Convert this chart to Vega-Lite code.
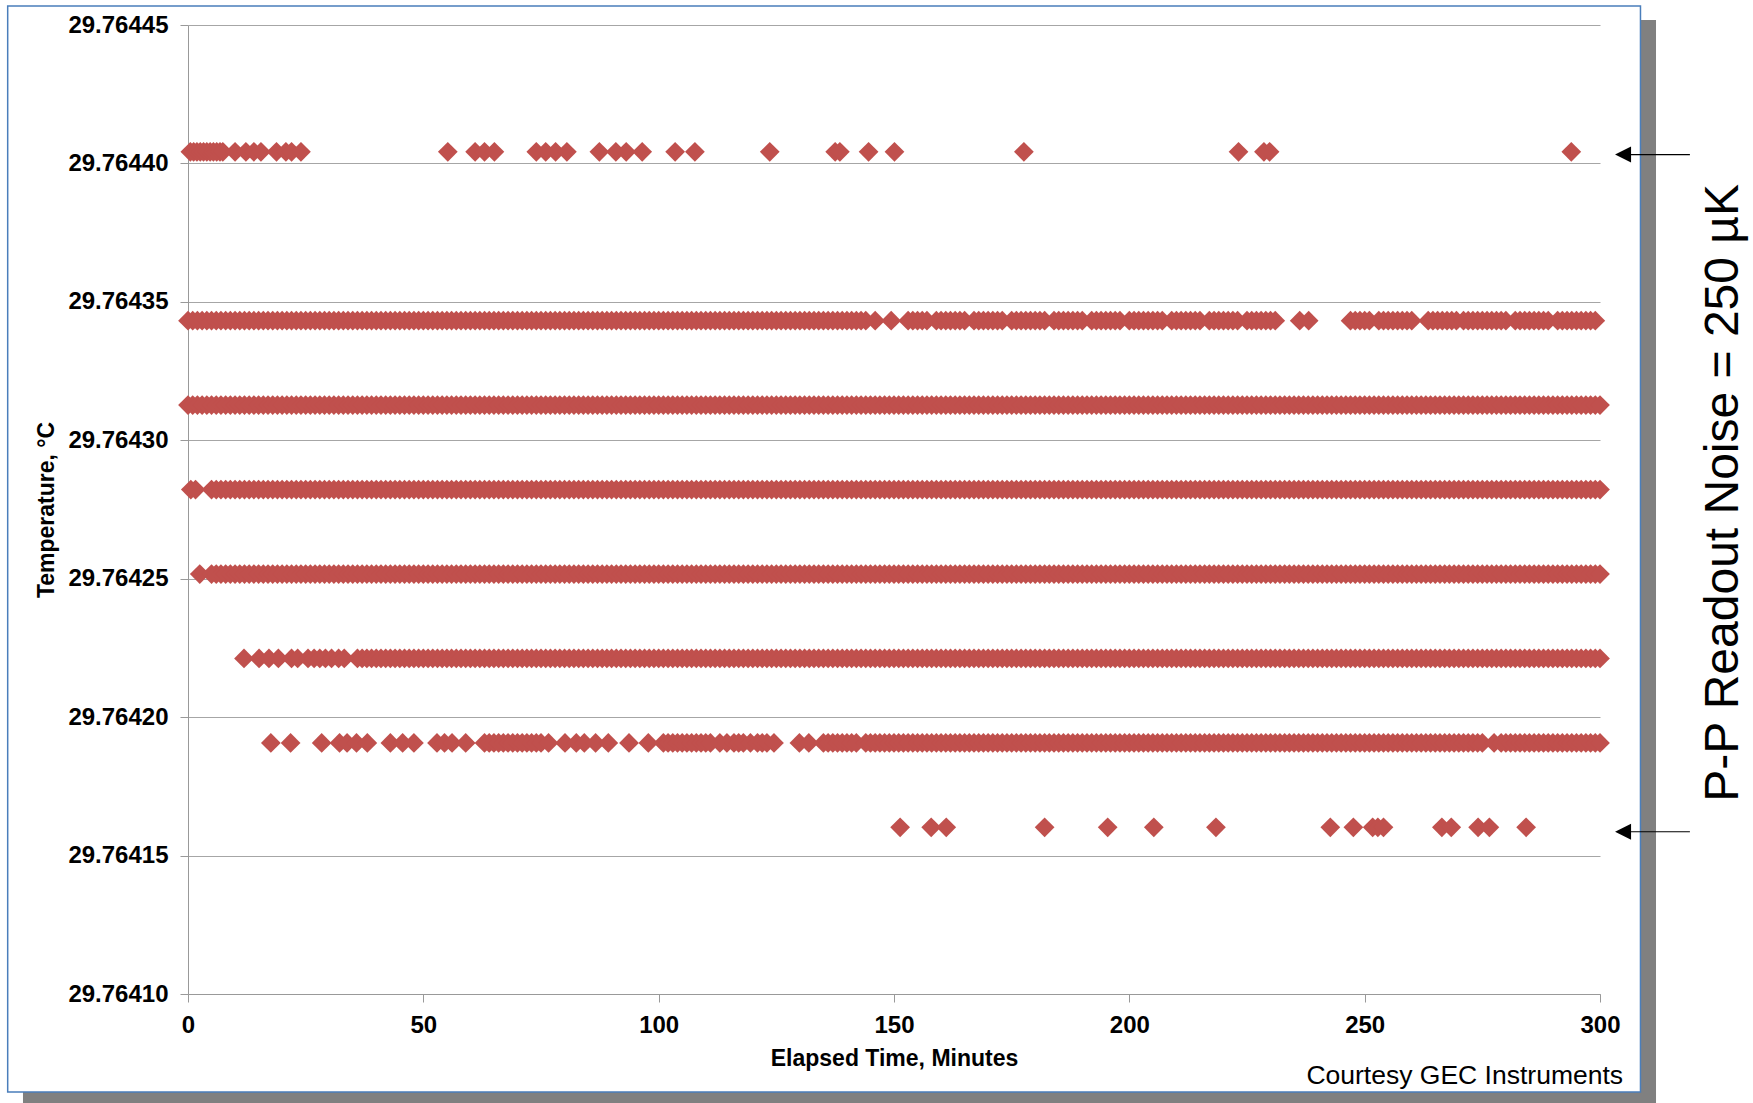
{
"$schema":"https://vega.github.io/schema/vega-lite/v6.json",
"width":1412,"height":969,
"autosize":"none",
"padding":{"left":188,"top":25,"right":153,"bottom":109},
"background":"white",
"config":{"view":{"stroke":null},"font":"Liberation Sans",
"axis":{"labelFont":"Liberation Sans","labelFontWeight":"bold","labelFontSize":24,"labelColor":"black","titleFont":"Liberation Sans","titleFontWeight":"bold","titleFontSize":23,"titleColor":"black","domainColor":"#999999","tickColor":"#999999","gridColor":"#a6a6a6","tickSize":8,"domainWidth":1,"tickWidth":1,"gridWidth":1}},
"datasets":{
"lv":[{"k":0,"v":29.7644042},{"k":1,"v":29.7643432},{"k":2,"v":29.7643127},{"k":3,"v":29.7642822},{"k":4,"v":29.7642517},{"k":5,"v":29.7642212},{"k":6,"v":29.7641907},{"k":7,"v":29.7641602}],
"pts":[
{"t":0.5,"k":0},{"t":1.2,"k":0},{"t":1.9,"k":0},{"t":2.6,"k":0},{"t":3.3,"k":0},{"t":4,"k":0},{"t":4.7,"k":0},{"t":5.4,"k":0},{"t":6.1,"k":0},{"t":6.8,"k":0},{"t":7.4,"k":0},{"t":10,"k":0},{"t":12.3,"k":0},{"t":14,"k":0},{"t":15.5,"k":0},{"t":18.8,"k":0},{"t":20.8,"k":0},{"t":22,"k":0},{"t":24,"k":0},{"t":55.2,"k":0},{"t":61,"k":0},{"t":63,"k":0},{"t":65.1,"k":0},{"t":74,"k":0},{"t":76,"k":0},{"t":78.1,"k":0},{"t":80.5,"k":0},{"t":87.4,"k":0},{"t":90.9,"k":0},{"t":93.1,"k":0},{"t":96.5,"k":0},{"t":103.5,"k":0},{"t":107.7,"k":0},{"t":123.6,"k":0},{"t":137.5,"k":0},{"t":138.5,"k":0},{"t":144.6,"k":0},{"t":150.1,"k":0},{"t":177.6,"k":0},{"t":223.2,"k":0},{"t":228.6,"k":0},{"t":229.8,"k":0},{"t":293.9,"k":0},
{"t":0,"k":1},{"t":1,"k":1},{"t":2,"k":1},{"t":3,"k":1},{"t":4,"k":1},{"t":5,"k":1},{"t":6,"k":1},{"t":7,"k":1},{"t":8,"k":1},{"t":9,"k":1},{"t":10,"k":1},{"t":11,"k":1},{"t":12,"k":1},{"t":13,"k":1},{"t":14,"k":1},{"t":15,"k":1},{"t":16,"k":1},{"t":17,"k":1},{"t":18,"k":1},{"t":19,"k":1},{"t":20,"k":1},{"t":21,"k":1},{"t":22,"k":1},{"t":23,"k":1},{"t":24,"k":1},{"t":25,"k":1},{"t":26,"k":1},{"t":27,"k":1},{"t":28,"k":1},{"t":29,"k":1},{"t":30,"k":1},{"t":31,"k":1},{"t":32,"k":1},{"t":33,"k":1},{"t":34,"k":1},{"t":35,"k":1},{"t":36,"k":1},{"t":37,"k":1},{"t":38,"k":1},{"t":39,"k":1},{"t":40,"k":1},{"t":41,"k":1},{"t":42,"k":1},{"t":43,"k":1},{"t":44,"k":1},{"t":45,"k":1},{"t":46,"k":1},{"t":47,"k":1},{"t":48,"k":1},{"t":49,"k":1},{"t":50,"k":1},{"t":51,"k":1},{"t":52,"k":1},{"t":53,"k":1},{"t":54,"k":1},{"t":55,"k":1},{"t":56,"k":1},{"t":57,"k":1},{"t":58,"k":1},{"t":59,"k":1},{"t":60,"k":1},{"t":61,"k":1},{"t":62,"k":1},{"t":63,"k":1},{"t":64,"k":1},{"t":65,"k":1},{"t":66,"k":1},{"t":67,"k":1},{"t":68,"k":1},{"t":69,"k":1},{"t":70,"k":1},{"t":71,"k":1},{"t":72,"k":1},{"t":73,"k":1},{"t":74,"k":1},{"t":75,"k":1},{"t":76,"k":1},{"t":77,"k":1},{"t":78,"k":1},{"t":79,"k":1},{"t":80,"k":1},{"t":81,"k":1},{"t":82,"k":1},{"t":83,"k":1},{"t":84,"k":1},{"t":85,"k":1},{"t":86,"k":1},{"t":87,"k":1},{"t":88,"k":1},{"t":89,"k":1},{"t":90,"k":1},{"t":91,"k":1},{"t":92,"k":1},{"t":93,"k":1},{"t":94,"k":1},{"t":95,"k":1},{"t":96,"k":1},{"t":97,"k":1},{"t":98,"k":1},{"t":99,"k":1},{"t":100,"k":1},{"t":101,"k":1},{"t":102,"k":1},{"t":103,"k":1},{"t":104,"k":1},{"t":105,"k":1},{"t":106,"k":1},{"t":107,"k":1},{"t":108,"k":1},{"t":109,"k":1},{"t":110,"k":1},{"t":111,"k":1},{"t":112,"k":1},{"t":113,"k":1},{"t":114,"k":1},{"t":115,"k":1},{"t":116,"k":1},{"t":117,"k":1},{"t":118,"k":1},{"t":119,"k":1},{"t":120,"k":1},{"t":121,"k":1},{"t":122,"k":1},{"t":123,"k":1},{"t":124,"k":1},{"t":125,"k":1},{"t":126,"k":1},{"t":127,"k":1},{"t":128,"k":1},{"t":129,"k":1},{"t":130,"k":1},{"t":131,"k":1},{"t":132,"k":1},{"t":133,"k":1},{"t":134,"k":1},{"t":135,"k":1},{"t":136,"k":1},{"t":137,"k":1},{"t":138,"k":1},{"t":139,"k":1},{"t":140,"k":1},{"t":141,"k":1},{"t":142,"k":1},{"t":143,"k":1},{"t":144,"k":1},{"t":146,"k":1},{"t":149.4,"k":1},
{"t":153,"k":1},{"t":154,"k":1},{"t":155,"k":1},{"t":156,"k":1},{"t":157,"k":1},{"t":159,"k":1},{"t":160,"k":1},{"t":161,"k":1},{"t":162,"k":1},{"t":163,"k":1},{"t":164,"k":1},{"t":165,"k":1},{"t":167,"k":1},{"t":168,"k":1},{"t":169,"k":1},{"t":170,"k":1},{"t":171,"k":1},{"t":172,"k":1},{"t":173,"k":1},{"t":175,"k":1},{"t":176,"k":1},{"t":177,"k":1},{"t":178,"k":1},{"t":179,"k":1},{"t":180,"k":1},{"t":181,"k":1},{"t":182,"k":1},{"t":184,"k":1},{"t":185,"k":1},{"t":186,"k":1},{"t":187,"k":1},{"t":188,"k":1},{"t":189,"k":1},{"t":190,"k":1},{"t":192,"k":1},{"t":193,"k":1},{"t":194,"k":1},{"t":195,"k":1},{"t":196,"k":1},{"t":197,"k":1},{"t":198,"k":1},{"t":200,"k":1},{"t":201,"k":1},{"t":202,"k":1},{"t":203,"k":1},{"t":204,"k":1},{"t":205,"k":1},{"t":206,"k":1},{"t":207,"k":1},{"t":209,"k":1},{"t":210,"k":1},{"t":211,"k":1},{"t":212,"k":1},{"t":213,"k":1},{"t":214,"k":1},{"t":215,"k":1},{"t":217,"k":1},{"t":218,"k":1},{"t":219,"k":1},{"t":220,"k":1},{"t":221,"k":1},{"t":222,"k":1},{"t":223,"k":1},{"t":225,"k":1},{"t":226,"k":1},{"t":227,"k":1},{"t":228,"k":1},{"t":229,"k":1},{"t":230,"k":1},{"t":231,"k":1},{"t":236.2,"k":1},{"t":238.1,"k":1},
{"t":247,"k":1},{"t":248,"k":1},{"t":249,"k":1},{"t":250,"k":1},{"t":251,"k":1},{"t":253,"k":1},{"t":254,"k":1},{"t":255,"k":1},{"t":256,"k":1},{"t":257,"k":1},{"t":258,"k":1},{"t":259,"k":1},{"t":260,"k":1},{"t":263.5,"k":1},{"t":264.5,"k":1},{"t":265.5,"k":1},{"t":266.5,"k":1},{"t":267.5,"k":1},{"t":268.5,"k":1},{"t":269.5,"k":1},{"t":271,"k":1},{"t":272,"k":1},{"t":273,"k":1},{"t":274,"k":1},{"t":275,"k":1},{"t":276,"k":1},{"t":277,"k":1},{"t":278,"k":1},{"t":279,"k":1},{"t":280,"k":1},{"t":282,"k":1},{"t":283,"k":1},{"t":284,"k":1},{"t":285,"k":1},{"t":286,"k":1},{"t":287,"k":1},{"t":288,"k":1},{"t":289,"k":1},{"t":291,"k":1},{"t":292,"k":1},{"t":293,"k":1},{"t":294,"k":1},{"t":295,"k":1},{"t":296,"k":1},{"t":297,"k":1},{"t":298,"k":1},{"t":299,"k":1},
{"t":0,"k":2},{"t":1,"k":2},{"t":2,"k":2},{"t":3,"k":2},{"t":4,"k":2},{"t":5,"k":2},{"t":6,"k":2},{"t":7,"k":2},{"t":8,"k":2},{"t":9,"k":2},{"t":10,"k":2},{"t":11,"k":2},{"t":12,"k":2},{"t":13,"k":2},{"t":14,"k":2},{"t":15,"k":2},{"t":16,"k":2},{"t":17,"k":2},{"t":18,"k":2},{"t":19,"k":2},{"t":20,"k":2},{"t":21,"k":2},{"t":22,"k":2},{"t":23,"k":2},{"t":24,"k":2},{"t":25,"k":2},{"t":26,"k":2},{"t":27,"k":2},{"t":28,"k":2},{"t":29,"k":2},{"t":30,"k":2},{"t":31,"k":2},{"t":32,"k":2},{"t":33,"k":2},{"t":34,"k":2},{"t":35,"k":2},{"t":36,"k":2},{"t":37,"k":2},{"t":38,"k":2},{"t":39,"k":2},{"t":40,"k":2},{"t":41,"k":2},{"t":42,"k":2},{"t":43,"k":2},{"t":44,"k":2},{"t":45,"k":2},{"t":46,"k":2},{"t":47,"k":2},{"t":48,"k":2},{"t":49,"k":2},{"t":50,"k":2},{"t":51,"k":2},{"t":52,"k":2},{"t":53,"k":2},{"t":54,"k":2},{"t":55,"k":2},{"t":56,"k":2},{"t":57,"k":2},{"t":58,"k":2},{"t":59,"k":2},{"t":60,"k":2},{"t":61,"k":2},{"t":62,"k":2},{"t":63,"k":2},{"t":64,"k":2},{"t":65,"k":2},{"t":66,"k":2},{"t":67,"k":2},{"t":68,"k":2},{"t":69,"k":2},{"t":70,"k":2},{"t":71,"k":2},{"t":72,"k":2},{"t":73,"k":2},{"t":74,"k":2},{"t":75,"k":2},{"t":76,"k":2},{"t":77,"k":2},{"t":78,"k":2},{"t":79,"k":2},{"t":80,"k":2},{"t":81,"k":2},{"t":82,"k":2},{"t":83,"k":2},{"t":84,"k":2},{"t":85,"k":2},{"t":86,"k":2},{"t":87,"k":2},{"t":88,"k":2},{"t":89,"k":2},{"t":90,"k":2},{"t":91,"k":2},{"t":92,"k":2},{"t":93,"k":2},{"t":94,"k":2},{"t":95,"k":2},{"t":96,"k":2},{"t":97,"k":2},{"t":98,"k":2},{"t":99,"k":2},{"t":100,"k":2},{"t":101,"k":2},{"t":102,"k":2},{"t":103,"k":2},{"t":104,"k":2},{"t":105,"k":2},{"t":106,"k":2},{"t":107,"k":2},{"t":108,"k":2},{"t":109,"k":2},{"t":110,"k":2},{"t":111,"k":2},{"t":112,"k":2},{"t":113,"k":2},{"t":114,"k":2},{"t":115,"k":2},{"t":116,"k":2},{"t":117,"k":2},{"t":118,"k":2},{"t":119,"k":2},{"t":120,"k":2},{"t":121,"k":2},{"t":122,"k":2},{"t":123,"k":2},{"t":124,"k":2},{"t":125,"k":2},{"t":126,"k":2},{"t":127,"k":2},{"t":128,"k":2},{"t":129,"k":2},{"t":130,"k":2},{"t":131,"k":2},{"t":132,"k":2},{"t":133,"k":2},{"t":134,"k":2},{"t":135,"k":2},{"t":136,"k":2},{"t":137,"k":2},{"t":138,"k":2},{"t":139,"k":2},{"t":140,"k":2},{"t":141,"k":2},{"t":142,"k":2},{"t":143,"k":2},{"t":144,"k":2},{"t":145,"k":2},{"t":146,"k":2},{"t":147,"k":2},{"t":148,"k":2},{"t":149,"k":2},{"t":150,"k":2},{"t":151,"k":2},{"t":152,"k":2},{"t":153,"k":2},{"t":154,"k":2},{"t":155,"k":2},{"t":156,"k":2},{"t":157,"k":2},{"t":158,"k":2},{"t":159,"k":2},{"t":160,"k":2},{"t":161,"k":2},{"t":162,"k":2},{"t":163,"k":2},{"t":164,"k":2},{"t":165,"k":2},{"t":166,"k":2},{"t":167,"k":2},{"t":168,"k":2},{"t":169,"k":2},{"t":170,"k":2},{"t":171,"k":2},{"t":172,"k":2},{"t":173,"k":2},{"t":174,"k":2},{"t":175,"k":2},{"t":176,"k":2},{"t":177,"k":2},{"t":178,"k":2},{"t":179,"k":2},{"t":180,"k":2},{"t":181,"k":2},{"t":182,"k":2},{"t":183,"k":2},{"t":184,"k":2},{"t":185,"k":2},{"t":186,"k":2},{"t":187,"k":2},{"t":188,"k":2},{"t":189,"k":2},{"t":190,"k":2},{"t":191,"k":2},{"t":192,"k":2},{"t":193,"k":2},{"t":194,"k":2},{"t":195,"k":2},{"t":196,"k":2},{"t":197,"k":2},{"t":198,"k":2},{"t":199,"k":2},{"t":200,"k":2},{"t":201,"k":2},{"t":202,"k":2},{"t":203,"k":2},{"t":204,"k":2},{"t":205,"k":2},{"t":206,"k":2},{"t":207,"k":2},{"t":208,"k":2},{"t":209,"k":2},{"t":210,"k":2},{"t":211,"k":2},{"t":212,"k":2},{"t":213,"k":2},{"t":214,"k":2},{"t":215,"k":2},{"t":216,"k":2},{"t":217,"k":2},{"t":218,"k":2},{"t":219,"k":2},{"t":220,"k":2},{"t":221,"k":2},{"t":222,"k":2},{"t":223,"k":2},{"t":224,"k":2},{"t":225,"k":2},{"t":226,"k":2},{"t":227,"k":2},{"t":228,"k":2},{"t":229,"k":2},{"t":230,"k":2},{"t":231,"k":2},{"t":232,"k":2},{"t":233,"k":2},{"t":234,"k":2},{"t":235,"k":2},{"t":236,"k":2},{"t":237,"k":2},{"t":238,"k":2},{"t":239,"k":2},{"t":240,"k":2},{"t":241,"k":2},{"t":242,"k":2},{"t":243,"k":2},{"t":244,"k":2},{"t":245,"k":2},{"t":246,"k":2},{"t":247,"k":2},{"t":248,"k":2},{"t":249,"k":2},{"t":250,"k":2},{"t":251,"k":2},{"t":252,"k":2},{"t":253,"k":2},{"t":254,"k":2},{"t":255,"k":2},{"t":256,"k":2},{"t":257,"k":2},{"t":258,"k":2},{"t":259,"k":2},{"t":260,"k":2},{"t":261,"k":2},{"t":262,"k":2},{"t":263,"k":2},{"t":264,"k":2},{"t":265,"k":2},{"t":266,"k":2},{"t":267,"k":2},{"t":268,"k":2},{"t":269,"k":2},{"t":270,"k":2},{"t":271,"k":2},{"t":272,"k":2},{"t":273,"k":2},{"t":274,"k":2},{"t":275,"k":2},{"t":276,"k":2},{"t":277,"k":2},{"t":278,"k":2},{"t":279,"k":2},{"t":280,"k":2},{"t":281,"k":2},{"t":282,"k":2},{"t":283,"k":2},{"t":284,"k":2},{"t":285,"k":2},{"t":286,"k":2},{"t":287,"k":2},{"t":288,"k":2},{"t":289,"k":2},{"t":290,"k":2},{"t":291,"k":2},{"t":292,"k":2},{"t":293,"k":2},{"t":294,"k":2},{"t":295,"k":2},{"t":296,"k":2},{"t":297,"k":2},{"t":298,"k":2},{"t":299,"k":2},{"t":300,"k":2},
{"t":0.6,"k":3},{"t":1.6,"k":3},{"t":5,"k":3},{"t":6,"k":3},{"t":7,"k":3},{"t":8,"k":3},{"t":9,"k":3},{"t":10,"k":3},{"t":11,"k":3},{"t":12,"k":3},{"t":13,"k":3},{"t":14,"k":3},{"t":15,"k":3},{"t":16,"k":3},{"t":17,"k":3},{"t":18,"k":3},{"t":19,"k":3},{"t":20,"k":3},{"t":21,"k":3},{"t":22,"k":3},{"t":23,"k":3},{"t":24,"k":3},{"t":25,"k":3},{"t":26,"k":3},{"t":27,"k":3},{"t":28,"k":3},{"t":29,"k":3},{"t":30,"k":3},{"t":31,"k":3},{"t":32,"k":3},{"t":33,"k":3},{"t":34,"k":3},{"t":35,"k":3},{"t":36,"k":3},{"t":37,"k":3},{"t":38,"k":3},{"t":39,"k":3},{"t":40,"k":3},{"t":41,"k":3},{"t":42,"k":3},{"t":43,"k":3},{"t":44,"k":3},{"t":45,"k":3},{"t":46,"k":3},{"t":47,"k":3},{"t":48,"k":3},{"t":49,"k":3},{"t":50,"k":3},{"t":51,"k":3},{"t":52,"k":3},{"t":53,"k":3},{"t":54,"k":3},{"t":55,"k":3},{"t":56,"k":3},{"t":57,"k":3},{"t":58,"k":3},{"t":59,"k":3},{"t":60,"k":3},{"t":61,"k":3},{"t":62,"k":3},{"t":63,"k":3},{"t":64,"k":3},{"t":65,"k":3},{"t":66,"k":3},{"t":67,"k":3},{"t":68,"k":3},{"t":69,"k":3},{"t":70,"k":3},{"t":71,"k":3},{"t":72,"k":3},{"t":73,"k":3},{"t":74,"k":3},{"t":75,"k":3},{"t":76,"k":3},{"t":77,"k":3},{"t":78,"k":3},{"t":79,"k":3},{"t":80,"k":3},{"t":81,"k":3},{"t":82,"k":3},{"t":83,"k":3},{"t":84,"k":3},{"t":85,"k":3},{"t":86,"k":3},{"t":87,"k":3},{"t":88,"k":3},{"t":89,"k":3},{"t":90,"k":3},{"t":91,"k":3},{"t":92,"k":3},{"t":93,"k":3},{"t":94,"k":3},{"t":95,"k":3},{"t":96,"k":3},{"t":97,"k":3},{"t":98,"k":3},{"t":99,"k":3},{"t":100,"k":3},{"t":101,"k":3},{"t":102,"k":3},{"t":103,"k":3},{"t":104,"k":3},{"t":105,"k":3},{"t":106,"k":3},{"t":107,"k":3},{"t":108,"k":3},{"t":109,"k":3},{"t":110,"k":3},{"t":111,"k":3},{"t":112,"k":3},{"t":113,"k":3},{"t":114,"k":3},{"t":115,"k":3},{"t":116,"k":3},{"t":117,"k":3},{"t":118,"k":3},{"t":119,"k":3},{"t":120,"k":3},{"t":121,"k":3},{"t":122,"k":3},{"t":123,"k":3},{"t":124,"k":3},{"t":125,"k":3},{"t":126,"k":3},{"t":127,"k":3},{"t":128,"k":3},{"t":129,"k":3},{"t":130,"k":3},{"t":131,"k":3},{"t":132,"k":3},{"t":133,"k":3},{"t":134,"k":3},{"t":135,"k":3},{"t":136,"k":3},{"t":137,"k":3},{"t":138,"k":3},{"t":139,"k":3},{"t":140,"k":3},{"t":141,"k":3},{"t":142,"k":3},{"t":143,"k":3},{"t":144,"k":3},{"t":145,"k":3},{"t":146,"k":3},{"t":147,"k":3},{"t":148,"k":3},{"t":149,"k":3},{"t":150,"k":3},{"t":151,"k":3},{"t":152,"k":3},{"t":153,"k":3},{"t":154,"k":3},{"t":155,"k":3},{"t":156,"k":3},{"t":157,"k":3},{"t":158,"k":3},{"t":159,"k":3},{"t":160,"k":3},{"t":161,"k":3},{"t":162,"k":3},{"t":163,"k":3},{"t":164,"k":3},{"t":165,"k":3},{"t":166,"k":3},{"t":167,"k":3},{"t":168,"k":3},{"t":169,"k":3},{"t":170,"k":3},{"t":171,"k":3},{"t":172,"k":3},{"t":173,"k":3},{"t":174,"k":3},{"t":175,"k":3},{"t":176,"k":3},{"t":177,"k":3},{"t":178,"k":3},{"t":179,"k":3},{"t":180,"k":3},{"t":181,"k":3},{"t":182,"k":3},{"t":183,"k":3},{"t":184,"k":3},{"t":185,"k":3},{"t":186,"k":3},{"t":187,"k":3},{"t":188,"k":3},{"t":189,"k":3},{"t":190,"k":3},{"t":191,"k":3},{"t":192,"k":3},{"t":193,"k":3},{"t":194,"k":3},{"t":195,"k":3},{"t":196,"k":3},{"t":197,"k":3},{"t":198,"k":3},{"t":199,"k":3},{"t":200,"k":3},{"t":201,"k":3},{"t":202,"k":3},{"t":203,"k":3},{"t":204,"k":3},{"t":205,"k":3},{"t":206,"k":3},{"t":207,"k":3},{"t":208,"k":3},{"t":209,"k":3},{"t":210,"k":3},{"t":211,"k":3},{"t":212,"k":3},{"t":213,"k":3},{"t":214,"k":3},{"t":215,"k":3},{"t":216,"k":3},{"t":217,"k":3},{"t":218,"k":3},{"t":219,"k":3},{"t":220,"k":3},{"t":221,"k":3},{"t":222,"k":3},{"t":223,"k":3},{"t":224,"k":3},{"t":225,"k":3},{"t":226,"k":3},{"t":227,"k":3},{"t":228,"k":3},{"t":229,"k":3},{"t":230,"k":3},{"t":231,"k":3},{"t":232,"k":3},{"t":233,"k":3},{"t":234,"k":3},{"t":235,"k":3},{"t":236,"k":3},{"t":237,"k":3},{"t":238,"k":3},{"t":239,"k":3},{"t":240,"k":3},{"t":241,"k":3},{"t":242,"k":3},{"t":243,"k":3},{"t":244,"k":3},{"t":245,"k":3},{"t":246,"k":3},{"t":247,"k":3},{"t":248,"k":3},{"t":249,"k":3},{"t":250,"k":3},{"t":251,"k":3},{"t":252,"k":3},{"t":253,"k":3},{"t":254,"k":3},{"t":255,"k":3},{"t":256,"k":3},{"t":257,"k":3},{"t":258,"k":3},{"t":259,"k":3},{"t":260,"k":3},{"t":261,"k":3},{"t":262,"k":3},{"t":263,"k":3},{"t":264,"k":3},{"t":265,"k":3},{"t":266,"k":3},{"t":267,"k":3},{"t":268,"k":3},{"t":269,"k":3},{"t":270,"k":3},{"t":271,"k":3},{"t":272,"k":3},{"t":273,"k":3},{"t":274,"k":3},{"t":275,"k":3},{"t":276,"k":3},{"t":277,"k":3},{"t":278,"k":3},{"t":279,"k":3},{"t":280,"k":3},{"t":281,"k":3},{"t":282,"k":3},{"t":283,"k":3},{"t":284,"k":3},{"t":285,"k":3},{"t":286,"k":3},{"t":287,"k":3},{"t":288,"k":3},{"t":289,"k":3},{"t":290,"k":3},{"t":291,"k":3},{"t":292,"k":3},{"t":293,"k":3},{"t":294,"k":3},{"t":295,"k":3},{"t":296,"k":3},{"t":297,"k":3},{"t":298,"k":3},{"t":299,"k":3},{"t":300,"k":3},
{"t":2.5,"k":4},{"t":5,"k":4},{"t":6,"k":4},{"t":7,"k":4},{"t":8,"k":4},{"t":9,"k":4},{"t":10,"k":4},{"t":11,"k":4},{"t":12,"k":4},{"t":13,"k":4},{"t":14,"k":4},{"t":15,"k":4},{"t":16,"k":4},{"t":17,"k":4},{"t":18,"k":4},{"t":19,"k":4},{"t":20,"k":4},{"t":21,"k":4},{"t":22,"k":4},{"t":23,"k":4},{"t":24,"k":4},{"t":25,"k":4},{"t":26,"k":4},{"t":27,"k":4},{"t":28,"k":4},{"t":29,"k":4},{"t":30,"k":4},{"t":31,"k":4},{"t":32,"k":4},{"t":33,"k":4},{"t":34,"k":4},{"t":35,"k":4},{"t":36,"k":4},{"t":37,"k":4},{"t":38,"k":4},{"t":39,"k":4},{"t":40,"k":4},{"t":41,"k":4},{"t":42,"k":4},{"t":43,"k":4},{"t":44,"k":4},{"t":45,"k":4},{"t":46,"k":4},{"t":47,"k":4},{"t":48,"k":4},{"t":49,"k":4},{"t":50,"k":4},{"t":51,"k":4},{"t":52,"k":4},{"t":53,"k":4},{"t":54,"k":4},{"t":55,"k":4},{"t":56,"k":4},{"t":57,"k":4},{"t":58,"k":4},{"t":59,"k":4},{"t":60,"k":4},{"t":61,"k":4},{"t":62,"k":4},{"t":63,"k":4},{"t":64,"k":4},{"t":65,"k":4},{"t":66,"k":4},{"t":67,"k":4},{"t":68,"k":4},{"t":69,"k":4},{"t":70,"k":4},{"t":71,"k":4},{"t":72,"k":4},{"t":73,"k":4},{"t":74,"k":4},{"t":75,"k":4},{"t":76,"k":4},{"t":77,"k":4},{"t":78,"k":4},{"t":79,"k":4},{"t":80,"k":4},{"t":81,"k":4},{"t":82,"k":4},{"t":83,"k":4},{"t":84,"k":4},{"t":85,"k":4},{"t":86,"k":4},{"t":87,"k":4},{"t":88,"k":4},{"t":89,"k":4},{"t":90,"k":4},{"t":91,"k":4},{"t":92,"k":4},{"t":93,"k":4},{"t":94,"k":4},{"t":95,"k":4},{"t":96,"k":4},{"t":97,"k":4},{"t":98,"k":4},{"t":99,"k":4},{"t":100,"k":4},{"t":101,"k":4},{"t":102,"k":4},{"t":103,"k":4},{"t":104,"k":4},{"t":105,"k":4},{"t":106,"k":4},{"t":107,"k":4},{"t":108,"k":4},{"t":109,"k":4},{"t":110,"k":4},{"t":111,"k":4},{"t":112,"k":4},{"t":113,"k":4},{"t":114,"k":4},{"t":115,"k":4},{"t":116,"k":4},{"t":117,"k":4},{"t":118,"k":4},{"t":119,"k":4},{"t":120,"k":4},{"t":121,"k":4},{"t":122,"k":4},{"t":123,"k":4},{"t":124,"k":4},{"t":125,"k":4},{"t":126,"k":4},{"t":127,"k":4},{"t":128,"k":4},{"t":129,"k":4},{"t":130,"k":4},{"t":131,"k":4},{"t":132,"k":4},{"t":133,"k":4},{"t":134,"k":4},{"t":135,"k":4},{"t":136,"k":4},{"t":137,"k":4},{"t":138,"k":4},{"t":139,"k":4},{"t":140,"k":4},{"t":141,"k":4},{"t":142,"k":4},{"t":143,"k":4},{"t":144,"k":4},{"t":145,"k":4},{"t":146,"k":4},{"t":147,"k":4},{"t":148,"k":4},{"t":149,"k":4},{"t":150,"k":4},{"t":151,"k":4},{"t":152,"k":4},{"t":153,"k":4},{"t":154,"k":4},{"t":155,"k":4},{"t":156,"k":4},{"t":157,"k":4},{"t":158,"k":4},{"t":159,"k":4},{"t":160,"k":4},{"t":161,"k":4},{"t":162,"k":4},{"t":163,"k":4},{"t":164,"k":4},{"t":165,"k":4},{"t":166,"k":4},{"t":167,"k":4},{"t":168,"k":4},{"t":169,"k":4},{"t":170,"k":4},{"t":171,"k":4},{"t":172,"k":4},{"t":173,"k":4},{"t":174,"k":4},{"t":175,"k":4},{"t":176,"k":4},{"t":177,"k":4},{"t":178,"k":4},{"t":179,"k":4},{"t":180,"k":4},{"t":181,"k":4},{"t":182,"k":4},{"t":183,"k":4},{"t":184,"k":4},{"t":185,"k":4},{"t":186,"k":4},{"t":187,"k":4},{"t":188,"k":4},{"t":189,"k":4},{"t":190,"k":4},{"t":191,"k":4},{"t":192,"k":4},{"t":193,"k":4},{"t":194,"k":4},{"t":195,"k":4},{"t":196,"k":4},{"t":197,"k":4},{"t":198,"k":4},{"t":199,"k":4},{"t":200,"k":4},{"t":201,"k":4},{"t":202,"k":4},{"t":203,"k":4},{"t":204,"k":4},{"t":205,"k":4},{"t":206,"k":4},{"t":207,"k":4},{"t":208,"k":4},{"t":209,"k":4},{"t":210,"k":4},{"t":211,"k":4},{"t":212,"k":4},{"t":213,"k":4},{"t":214,"k":4},{"t":215,"k":4},{"t":216,"k":4},{"t":217,"k":4},{"t":218,"k":4},{"t":219,"k":4},{"t":220,"k":4},{"t":221,"k":4},{"t":222,"k":4},{"t":223,"k":4},{"t":224,"k":4},{"t":225,"k":4},{"t":226,"k":4},{"t":227,"k":4},{"t":228,"k":4},{"t":229,"k":4},{"t":230,"k":4},{"t":231,"k":4},{"t":232,"k":4},{"t":233,"k":4},{"t":234,"k":4},{"t":235,"k":4},{"t":236,"k":4},{"t":237,"k":4},{"t":238,"k":4},{"t":239,"k":4},{"t":240,"k":4},{"t":241,"k":4},{"t":242,"k":4},{"t":243,"k":4},{"t":244,"k":4},{"t":245,"k":4},{"t":246,"k":4},{"t":247,"k":4},{"t":248,"k":4},{"t":249,"k":4},{"t":250,"k":4},{"t":251,"k":4},{"t":252,"k":4},{"t":253,"k":4},{"t":254,"k":4},{"t":255,"k":4},{"t":256,"k":4},{"t":257,"k":4},{"t":258,"k":4},{"t":259,"k":4},{"t":260,"k":4},{"t":261,"k":4},{"t":262,"k":4},{"t":263,"k":4},{"t":264,"k":4},{"t":265,"k":4},{"t":266,"k":4},{"t":267,"k":4},{"t":268,"k":4},{"t":269,"k":4},{"t":270,"k":4},{"t":271,"k":4},{"t":272,"k":4},{"t":273,"k":4},{"t":274,"k":4},{"t":275,"k":4},{"t":276,"k":4},{"t":277,"k":4},{"t":278,"k":4},{"t":279,"k":4},{"t":280,"k":4},{"t":281,"k":4},{"t":282,"k":4},{"t":283,"k":4},{"t":284,"k":4},{"t":285,"k":4},{"t":286,"k":4},{"t":287,"k":4},{"t":288,"k":4},{"t":289,"k":4},{"t":290,"k":4},{"t":291,"k":4},{"t":292,"k":4},{"t":293,"k":4},{"t":294,"k":4},{"t":295,"k":4},{"t":296,"k":4},{"t":297,"k":4},{"t":298,"k":4},{"t":299,"k":4},{"t":300,"k":4},
{"t":11.9,"k":5},{"t":15.1,"k":5},{"t":17.2,"k":5},{"t":19.2,"k":5},{"t":22,"k":5},{"t":23.3,"k":5},{"t":25.5,"k":5},{"t":26.8,"k":5},{"t":28,"k":5},{"t":29.2,"k":5},{"t":30.5,"k":5},{"t":32,"k":5},{"t":33.2,"k":5},{"t":36,"k":5},{"t":37,"k":5},{"t":38,"k":5},{"t":39,"k":5},{"t":40,"k":5},{"t":41,"k":5},{"t":42,"k":5},{"t":43,"k":5},{"t":44,"k":5},{"t":45,"k":5},{"t":46,"k":5},{"t":47,"k":5},{"t":48,"k":5},{"t":49,"k":5},{"t":50,"k":5},{"t":51,"k":5},{"t":52,"k":5},{"t":53,"k":5},{"t":54,"k":5},{"t":55,"k":5},{"t":56,"k":5},{"t":57,"k":5},{"t":58,"k":5},{"t":59,"k":5},{"t":60,"k":5},{"t":61,"k":5},{"t":62,"k":5},{"t":63,"k":5},{"t":64,"k":5},{"t":65,"k":5},{"t":66,"k":5},{"t":67,"k":5},{"t":68,"k":5},{"t":69,"k":5},{"t":70,"k":5},{"t":71,"k":5},{"t":72,"k":5},{"t":73,"k":5},{"t":74,"k":5},{"t":75,"k":5},{"t":76,"k":5},{"t":77,"k":5},{"t":78,"k":5},{"t":79,"k":5},{"t":80,"k":5},{"t":81,"k":5},{"t":82,"k":5},{"t":83,"k":5},{"t":84,"k":5},{"t":85,"k":5},{"t":86,"k":5},{"t":87,"k":5},{"t":88,"k":5},{"t":89,"k":5},{"t":90,"k":5},{"t":91,"k":5},{"t":92,"k":5},{"t":93,"k":5},{"t":94,"k":5},{"t":95,"k":5},{"t":96,"k":5},{"t":97,"k":5},{"t":98,"k":5},{"t":99,"k":5},{"t":100,"k":5},{"t":101,"k":5},{"t":102,"k":5},{"t":103,"k":5},{"t":104,"k":5},{"t":105,"k":5},{"t":106,"k":5},{"t":107,"k":5},{"t":108,"k":5},{"t":109,"k":5},{"t":110,"k":5},{"t":111,"k":5},{"t":112,"k":5},{"t":113,"k":5},{"t":114,"k":5},{"t":115,"k":5},{"t":116,"k":5},{"t":117,"k":5},{"t":118,"k":5},{"t":119,"k":5},{"t":120,"k":5},{"t":121,"k":5},{"t":122,"k":5},{"t":123,"k":5},{"t":124,"k":5},{"t":125,"k":5},{"t":126,"k":5},{"t":127,"k":5},{"t":128,"k":5},{"t":129,"k":5},{"t":130,"k":5},{"t":131,"k":5},{"t":132,"k":5},{"t":133,"k":5},{"t":134,"k":5},{"t":135,"k":5},{"t":136,"k":5},{"t":137,"k":5},{"t":138,"k":5},{"t":139,"k":5},{"t":140,"k":5},{"t":141,"k":5},{"t":142,"k":5},{"t":143,"k":5},{"t":144,"k":5},{"t":145,"k":5},{"t":146,"k":5},{"t":147,"k":5},{"t":148,"k":5},{"t":149,"k":5},{"t":150,"k":5},{"t":151,"k":5},{"t":152,"k":5},{"t":153,"k":5},{"t":154,"k":5},{"t":155,"k":5},{"t":156,"k":5},{"t":157,"k":5},{"t":158,"k":5},{"t":159,"k":5},{"t":160,"k":5},{"t":161,"k":5},{"t":162,"k":5},{"t":163,"k":5},{"t":164,"k":5},{"t":165,"k":5},{"t":166,"k":5},{"t":167,"k":5},{"t":168,"k":5},{"t":169,"k":5},{"t":170,"k":5},{"t":171,"k":5},{"t":172,"k":5},{"t":173,"k":5},{"t":174,"k":5},{"t":175,"k":5},{"t":176,"k":5},{"t":177,"k":5},{"t":178,"k":5},{"t":179,"k":5},{"t":180,"k":5},{"t":181,"k":5},{"t":182,"k":5},{"t":183,"k":5},{"t":184,"k":5},{"t":185,"k":5},{"t":186,"k":5},{"t":187,"k":5},{"t":188,"k":5},{"t":189,"k":5},{"t":190,"k":5},{"t":191,"k":5},{"t":192,"k":5},{"t":193,"k":5},{"t":194,"k":5},{"t":195,"k":5},{"t":196,"k":5},{"t":197,"k":5},{"t":198,"k":5},{"t":199,"k":5},{"t":200,"k":5},{"t":201,"k":5},{"t":202,"k":5},{"t":203,"k":5},{"t":204,"k":5},{"t":205,"k":5},{"t":206,"k":5},{"t":207,"k":5},{"t":208,"k":5},{"t":209,"k":5},{"t":210,"k":5},{"t":211,"k":5},{"t":212,"k":5},{"t":213,"k":5},{"t":214,"k":5},{"t":215,"k":5},{"t":216,"k":5},{"t":217,"k":5},{"t":218,"k":5},{"t":219,"k":5},{"t":220,"k":5},{"t":221,"k":5},{"t":222,"k":5},{"t":223,"k":5},{"t":224,"k":5},{"t":225,"k":5},{"t":226,"k":5},{"t":227,"k":5},{"t":228,"k":5},{"t":229,"k":5},{"t":230,"k":5},{"t":231,"k":5},{"t":232,"k":5},{"t":233,"k":5},{"t":234,"k":5},{"t":235,"k":5},{"t":236,"k":5},{"t":237,"k":5},{"t":238,"k":5},{"t":239,"k":5},{"t":240,"k":5},{"t":241,"k":5},{"t":242,"k":5},{"t":243,"k":5},{"t":244,"k":5},{"t":245,"k":5},{"t":246,"k":5},{"t":247,"k":5},{"t":248,"k":5},{"t":249,"k":5},{"t":250,"k":5},{"t":251,"k":5},{"t":252,"k":5},{"t":253,"k":5},{"t":254,"k":5},{"t":255,"k":5},{"t":256,"k":5},{"t":257,"k":5},{"t":258,"k":5},{"t":259,"k":5},{"t":260,"k":5},{"t":261,"k":5},{"t":262,"k":5},{"t":263,"k":5},{"t":264,"k":5},{"t":265,"k":5},{"t":266,"k":5},{"t":267,"k":5},{"t":268,"k":5},{"t":269,"k":5},{"t":270,"k":5},{"t":271,"k":5},{"t":272,"k":5},{"t":273,"k":5},{"t":274,"k":5},{"t":275,"k":5},{"t":276,"k":5},{"t":277,"k":5},{"t":278,"k":5},{"t":279,"k":5},{"t":280,"k":5},{"t":281,"k":5},{"t":282,"k":5},{"t":283,"k":5},{"t":284,"k":5},{"t":285,"k":5},{"t":286,"k":5},{"t":287,"k":5},{"t":288,"k":5},{"t":289,"k":5},{"t":290,"k":5},{"t":291,"k":5},{"t":292,"k":5},{"t":293,"k":5},{"t":294,"k":5},{"t":295,"k":5},{"t":296,"k":5},{"t":297,"k":5},{"t":298,"k":5},{"t":299,"k":5},{"t":300,"k":5},
{"t":17.6,"k":6},{"t":21.8,"k":6},{"t":28.4,"k":6},{"t":32.2,"k":6},{"t":33.8,"k":6},{"t":35.8,"k":6},{"t":38.1,"k":6},{"t":43,"k":6},{"t":45.6,"k":6},{"t":48,"k":6},{"t":52.9,"k":6},{"t":54.5,"k":6},{"t":56.1,"k":6},{"t":59,"k":6},{"t":63,"k":6},{"t":64,"k":6},{"t":65,"k":6},{"t":66,"k":6},{"t":67,"k":6},{"t":68,"k":6},{"t":69,"k":6},{"t":70,"k":6},{"t":71,"k":6},{"t":72,"k":6},{"t":73,"k":6},{"t":74,"k":6},{"t":75,"k":6},{"t":76.6,"k":6},{"t":80.1,"k":6},{"t":82.5,"k":6},{"t":84.2,"k":6},{"t":86.6,"k":6},{"t":89.3,"k":6},{"t":93.7,"k":6},{"t":97.8,"k":6},{"t":101,"k":6},{"t":102,"k":6},{"t":103,"k":6},{"t":104,"k":6},{"t":105,"k":6},{"t":106,"k":6},{"t":107,"k":6},{"t":108,"k":6},{"t":109,"k":6},{"t":110,"k":6},{"t":111,"k":6},{"t":113,"k":6},{"t":114.5,"k":6},{"t":116,"k":6},{"t":117,"k":6},{"t":118,"k":6},{"t":119.5,"k":6},{"t":121,"k":6},{"t":122,"k":6},{"t":123,"k":6},{"t":124.5,"k":6},{"t":129.9,"k":6},{"t":131.9,"k":6},{"t":135,"k":6},{"t":136,"k":6},{"t":137,"k":6},{"t":138,"k":6},{"t":139,"k":6},{"t":140,"k":6},{"t":141,"k":6},{"t":142,"k":6},{"t":144,"k":6},{"t":145,"k":6},{"t":146,"k":6},{"t":147,"k":6},{"t":148,"k":6},{"t":149,"k":6},{"t":150,"k":6},{"t":151,"k":6},{"t":152,"k":6},{"t":153,"k":6},{"t":154,"k":6},{"t":155,"k":6},{"t":156,"k":6},{"t":157,"k":6},{"t":158,"k":6},{"t":159,"k":6},{"t":160,"k":6},{"t":161,"k":6},{"t":162,"k":6},{"t":163,"k":6},{"t":164,"k":6},{"t":165,"k":6},{"t":166,"k":6},{"t":167,"k":6},{"t":168,"k":6},{"t":169,"k":6},{"t":170,"k":6},{"t":171,"k":6},{"t":172,"k":6},{"t":173,"k":6},{"t":174,"k":6},{"t":175,"k":6},{"t":176,"k":6},{"t":177,"k":6},{"t":178,"k":6},{"t":179,"k":6},{"t":180,"k":6},{"t":181,"k":6},{"t":182,"k":6},{"t":183,"k":6},{"t":184,"k":6},{"t":185,"k":6},{"t":186,"k":6},{"t":187,"k":6},{"t":188,"k":6},{"t":189,"k":6},{"t":190,"k":6},{"t":191,"k":6},{"t":192,"k":6},{"t":193,"k":6},{"t":194,"k":6},{"t":195,"k":6},{"t":196,"k":6},{"t":197,"k":6},{"t":198,"k":6},{"t":199,"k":6},{"t":200,"k":6},{"t":201,"k":6},{"t":202,"k":6},{"t":203,"k":6},{"t":204,"k":6},{"t":205,"k":6},{"t":206,"k":6},{"t":207,"k":6},{"t":208,"k":6},{"t":209,"k":6},{"t":210,"k":6},{"t":211,"k":6},{"t":212,"k":6},{"t":213,"k":6},{"t":214,"k":6},{"t":215,"k":6},{"t":216,"k":6},{"t":217,"k":6},{"t":218,"k":6},{"t":219,"k":6},{"t":220,"k":6},{"t":221,"k":6},{"t":222,"k":6},{"t":223,"k":6},{"t":224,"k":6},{"t":225,"k":6},{"t":226,"k":6},{"t":227,"k":6},{"t":228,"k":6},{"t":229,"k":6},{"t":230,"k":6},{"t":231,"k":6},{"t":232,"k":6},{"t":233,"k":6},{"t":234,"k":6},{"t":235,"k":6},{"t":236,"k":6},{"t":237,"k":6},{"t":238,"k":6},{"t":239,"k":6},{"t":240,"k":6},{"t":241,"k":6},{"t":242,"k":6},{"t":243,"k":6},{"t":244,"k":6},{"t":245,"k":6},{"t":246,"k":6},{"t":247,"k":6},{"t":248,"k":6},{"t":249,"k":6},{"t":250,"k":6},{"t":251,"k":6},{"t":252,"k":6},{"t":253,"k":6},{"t":254,"k":6},{"t":255,"k":6},{"t":256,"k":6},{"t":257,"k":6},{"t":258,"k":6},{"t":259,"k":6},{"t":260,"k":6},{"t":261,"k":6},{"t":262,"k":6},{"t":263,"k":6},{"t":264,"k":6},{"t":265,"k":6},{"t":266,"k":6},{"t":267,"k":6},{"t":268,"k":6},{"t":269,"k":6},{"t":270,"k":6},{"t":271,"k":6},{"t":272,"k":6},{"t":273,"k":6},{"t":274,"k":6},{"t":275,"k":6},{"t":277.5,"k":6},{"t":279,"k":6},{"t":280,"k":6},{"t":281,"k":6},{"t":282,"k":6},{"t":283,"k":6},{"t":284,"k":6},{"t":285,"k":6},{"t":286,"k":6},{"t":287,"k":6},{"t":288,"k":6},{"t":289,"k":6},{"t":290,"k":6},{"t":291,"k":6},{"t":292,"k":6},{"t":293,"k":6},{"t":294,"k":6},{"t":295,"k":6},{"t":296,"k":6},{"t":297,"k":6},{"t":298,"k":6},{"t":299,"k":6},{"t":300,"k":6},
{"t":151.3,"k":7},{"t":157.9,"k":7},{"t":161.1,"k":7},{"t":182,"k":7},{"t":195.4,"k":7},{"t":205.2,"k":7},{"t":218.4,"k":7},{"t":242.7,"k":7},{"t":247.6,"k":7},{"t":251.7,"k":7},{"t":252.8,"k":7},{"t":254,"k":7},{"t":266.4,"k":7},{"t":268.4,"k":7},{"t":274.1,"k":7},{"t":276.5,"k":7},{"t":284.3,"k":7}
]},
"layer":[
{"data":{"values":[{}]},"mark":{"type":"rect","color":"#808080"},
 "encoding":{"x":{"datum":308.6,"type":"quantitative","scale":{"domain":[0,300],"nice":false,"zero":false}},"x2":{"datum":311.9},"y":{"datum":29.7644518,"type":"quantitative","scale":{"domain":[29.7641,29.76445],"nice":false,"zero":false}},"y2":{"datum":29.7640606}}},
{"data":{"values":[{}]},"mark":{"type":"rect","color":"#808080"},
 "encoding":{"x":{"datum":-35.06,"type":"quantitative","scale":{"domain":[0,300],"nice":false,"zero":false}},"x2":{"datum":311.9},"y":{"datum":29.7640646,"type":"quantitative","scale":{"domain":[29.7641,29.76445],"nice":false,"zero":false}},"y2":{"datum":29.7640606}}},
{"data":{"values":[{}]},"mark":{"type":"rect","filled":false,"stroke":"#4a7ebb","strokeWidth":1.5},
 "encoding":{"x":{"datum":-38.31,"type":"quantitative","scale":{"domain":[0,300],"nice":false,"zero":false}},"x2":{"datum":308.6},"y":{"datum":29.7644569,"type":"quantitative","scale":{"domain":[29.7641,29.76445],"nice":false,"zero":false}},"y2":{"datum":29.7640646}}},
{"data":{"name":"pts"},
 "transform":[{"lookup":"k","from":{"data":{"name":"lv"},"key":"k","fields":["v"]}}],
 "mark":{"type":"point","shape":"diamond","filled":true,"size":390,"color":"#C0504D","opacity":1,"strokeWidth":0},
 "encoding":{
  "x":{"field":"t","type":"quantitative","scale":{"domain":[0,300],"nice":false,"zero":false},"axis":{"values":[0,50,100,150,200,250,300],"grid":false,"labelFlush":false,"title":"Elapsed Time, Minutes","titlePadding":10,"labelPadding":11}},
  "y":{"field":"v","type":"quantitative","scale":{"domain":[29.7641,29.76445],"nice":false,"zero":false},"axis":{"values":[29.7641,29.76415,29.7642,29.76425,29.7643,29.76435,29.7644,29.76445],"format":".5f","grid":true,"labelFlush":false,"title":"Temperature, °C","titlePadding":9,"labelPadding":12}}}},
{"data":{"values":[{}]},"mark":{"type":"rule","color":"black","strokeWidth":1.2},
 "encoding":{"x":{"datum":304.9,"type":"quantitative"},"x2":{"datum":319.1},"y":{"datum":29.7644032,"type":"quantitative"}}},
{"data":{"values":[{}]},"mark":{"type":"rule","color":"black","strokeWidth":1.2},
 "encoding":{"x":{"datum":304.9,"type":"quantitative"},"x2":{"datum":319.1},"y":{"datum":29.7641586,"type":"quantitative"}}},
{"data":{"values":[{}]},"mark":{"type":"point","shape":"M-1,0L1,-1L1,1Z","filled":true,"size":256,"color":"black","opacity":1},
 "encoding":{"x":{"datum":304.9,"type":"quantitative"},"y":{"datum":29.7644032,"type":"quantitative"}}},
{"data":{"values":[{}]},"mark":{"type":"point","shape":"M-1,0L1,-1L1,1Z","filled":true,"size":256,"color":"black","opacity":1},
 "encoding":{"x":{"datum":304.9,"type":"quantitative"},"y":{"datum":29.7641586,"type":"quantitative"}}},
{"data":{"values":[{"s":"P-P Readout Noise = 250 µK"}]},"mark":{"type":"text","angle":270,"align":"center","baseline":"alphabetic","fontSize":48,"font":"Liberation Sans","color":"black"},
 "encoding":{"text":{"field":"s"},"x":{"datum":329.3,"type":"quantitative"},"y":{"datum":29.764281,"type":"quantitative"}}},
{"data":{"values":[{"s":"Courtesy GEC Instruments"}]},"mark":{"type":"text","align":"right","baseline":"alphabetic","fontSize":26.5,"font":"Liberation Sans","color":"black"},
 "encoding":{"text":{"field":"s"},"x":{"datum":304.9,"type":"quantitative"},"y":{"datum":29.7640675,"type":"quantitative"}}}
]
}
